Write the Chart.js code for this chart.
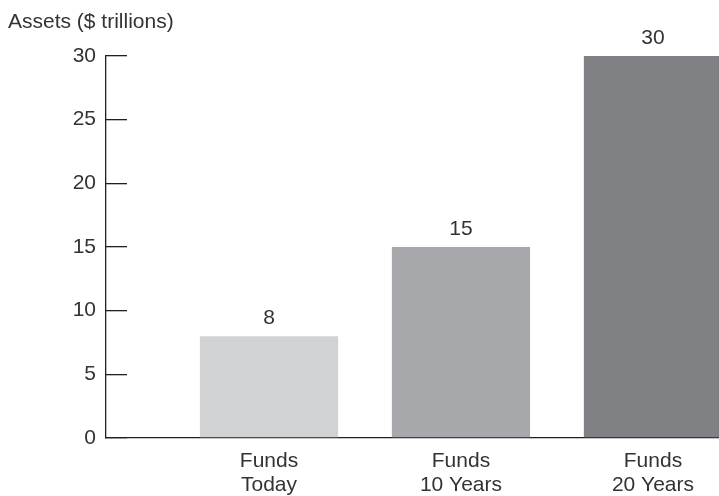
<!DOCTYPE html>
<html>
<head>
<meta charset="utf-8">
<script src="https://cdn.jsdelivr.net/npm/chart.js@4/dist/chart.umd.min.js"></script>
<style>
  html, body { margin: 0; padding: 0; background: #fff; }
  #wrap { width: 719px; height: 496px; position: relative; }
</style>
</head>
<body>
<div id="wrap"><canvas id="assetsChart"></canvas></div>
<script>
// chart data
var categories = [['Funds', 'Today'], ['Funds', '10 Years'], ['Funds', '20 Years']];
var assets = [8, 15, 30];
var barColors = ['#d1d2d4', '#a7a8ab', '#808184'];
var yTicks = [0, 5, 10, 15, 20, 25, 30];
var yTitle = 'Assets ($ trillions)';

var textColor = '#333333';
var axisColor = '#231f20';
var fontFamily = '"Liberation Sans", Arial, sans-serif';

// bars sit on a linear x scale at 1, 2, 3 so the first bar can start away from the y axis
var points = assets.map(function (v, i) { return { x: i + 1, y: v }; });

// value labels above bars + the axis title in the corner
var labelsPlugin = {
  id: 'labelsPlugin',
  afterDatasetsDraw: function (chart) {
    var ctx = chart.ctx;
    ctx.save();
    ctx.fillStyle = textColor;
    ctx.font = '21px ' + fontFamily;
    ctx.textAlign = 'center';
    ctx.textBaseline = 'alphabetic';
    chart.getDatasetMeta(0).data.forEach(function (bar, i) {
      ctx.fillText(String(assets[i]), bar.x, bar.y - 12);
    });
    ctx.textAlign = 'left';
    ctx.fillText(yTitle, 8, 28);
    ctx.restore();
  }
};

new Chart(document.getElementById('assetsChart'), {
  type: 'bar',
  data: {
    datasets: [{
      data: points,
      backgroundColor: barColors,
      borderWidth: 0,
      barPercentage: 0.9,
      categoryPercentage: 0.8
    }]
  },
  options: {
    responsive: true,
    maintainAspectRatio: false,
    animation: false,
    layout: { padding: { top: 56, left: 0, right: 0, bottom: 0 } },
    plugins: {
      legend: { display: false },
      tooltip: { enabled: false }
    },
    scales: {
      x: {
        type: 'linear',
        offset: false,
        min: 0.151,
        max: 3.344,
        grid: { display: false, drawTicks: false },
        border: { display: true, color: axisColor, width: 1.3 },
        afterBuildTicks: function (axis) {
          axis.ticks = categories.map(function (c, i) { return { value: i + 1 }; });
        },
        afterFit: function (scale) { scale.height = 58; },
        ticks: {
          color: textColor,
          font: { family: fontFamily, size: 21, lineHeight: 1.14 },
          padding: 11,
          maxRotation: 0,
          autoSkip: false,
          callback: function (v) { return categories[v - 1]; }
        }
      },
      y: {
        min: 0,
        max: 30,
        afterBuildTicks: function (axis) {
          axis.ticks = yTicks.map(function (v) { return { value: v }; });
        },
        afterFit: function (scale) { scale.width = 106; },
        grid: {
          drawOnChartArea: false,
          drawTicks: true,
          tickLength: -21,
          color: axisColor,
          lineWidth: 1.3
        },
        border: { display: true, color: axisColor, width: 1.3 },
        ticks: {
          color: textColor,
          font: { family: fontFamily, size: 21 },
          padding: 31
        }
      }
    }
  },
  plugins: [labelsPlugin]
});
</script>
</body>
</html>
